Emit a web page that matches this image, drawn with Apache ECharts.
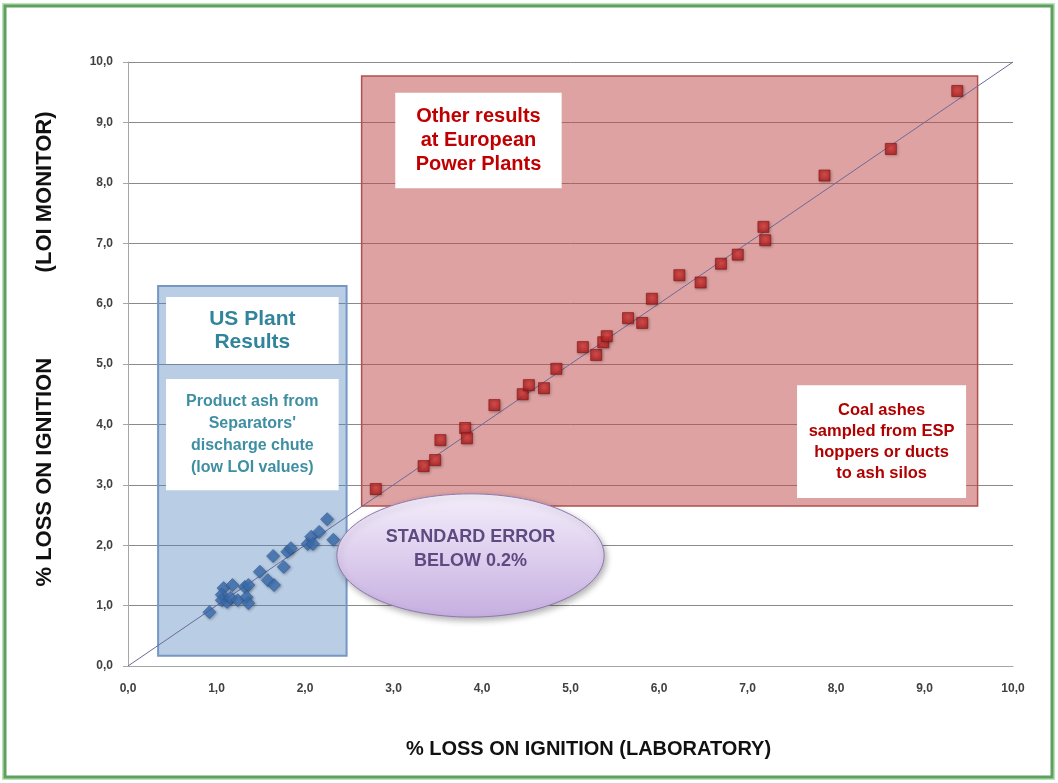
<!DOCTYPE html>
<html>
<head>
<meta charset="utf-8">
<script src="https://cdn.jsdelivr.net/npm/echarts@6/dist/echarts.min.js"></script>
<style>
html,body{margin:0;padding:0;background:#fff;}
#chart{width:1058px;height:783px;}
</style>
</head>
<body>
<div id="chart"></div>
<script>
// ---- data ----
const xTickValues = [0,1,2,3,4,5,6,7,8,9,10];
const usPlantLab = [0.92,1.08,1.06,1.06,1.12,1.18,1.16,1.24,1.32,1.36,1.34,1.36,1.49,1.58,1.65,1.64,1.76,1.80,1.84,2.03,2.07,2.09,2.16,2.25,2.32];
const usPlantMonitor = [0.89,1.29,1.18,1.09,1.06,1.34,1.13,1.09,1.31,1.34,1.14,1.04,1.56,1.42,1.34,1.82,1.64,1.89,1.95,2.02,2.14,2.02,2.22,2.43,2.09];
const europeLab = [2.80,3.34,3.47,3.53,3.81,3.83,4.14,4.46,4.53,4.70,4.84,5.14,5.29,5.37,5.41,5.65,5.81,5.92,6.23,6.47,6.70,6.89,7.18,7.20,7.87,8.62,9.37];
const europeMonitor = [2.93,3.31,3.41,3.74,3.94,3.77,4.32,4.50,4.65,4.60,4.92,5.28,5.15,5.36,5.46,5.76,5.68,6.08,6.47,6.35,6.66,6.81,7.27,7.05,8.12,8.56,9.52];
const identityLine = [[0,0],[10,10]];
const usArea = [[0.34,0.17],[2.47,6.29]];
const europeArea = [[2.64,2.65],[9.60,9.77]];

const usPoints = usPlantLab.map((x,i)=>[x,usPlantMonitor[i]]);
const euPoints = europeLab.map((x,i)=>[x,europeMonitor[i]]);

const fmt = v => v.toFixed(1).replace('.', ',');
const FONT = "'Liberation Sans', Arial, sans-serif";

const chart = echarts.init(document.getElementById('chart'));
const option = {
  animation:false,
  backgroundColor:'#ffffff',
  grid:{left:128,right:45,top:62,bottom:117},
  xAxis:{
    type:'value',min:0,max:10,interval:1,
    name:'% LOSS ON IGNITION (LABORATORY)',
    nameLocation:'middle',nameGap:73,
    nameTextStyle:{fontFamily:FONT,fontWeight:'bold',fontSize:20,color:'#111',padding:[0,0,0,36]},
    axisLine:{show:true,lineStyle:{color:'#a6a6a6',width:1}},
    axisTick:{show:false},
    splitLine:{show:false},
    axisLabel:{formatter:fmt,fontFamily:FONT,fontWeight:'bold',fontSize:12,color:'#404040',margin:17}
  },
  yAxis:{
    type:'value',min:0,max:10,interval:1,
    name:'% LOSS ON IGNITION              (LOI MONITOR)',
    nameLocation:'middle',nameGap:72,nameRotate:90,
    nameTextStyle:{fontFamily:FONT,fontWeight:'bold',fontSize:22,color:'#111',padding:[0,0,0,30]},
    axisLine:{show:true,lineStyle:{color:'#a6a6a6',width:1}},
    axisTick:{show:true,length:5,inside:false,lineStyle:{color:'#a6a6a6'}},
    splitLine:{show:true,lineStyle:{color:'#8a8a8a',width:1}},
    axisLabel:{formatter:fmt,fontFamily:FONT,fontWeight:'bold',fontSize:12,color:'#404040',margin:15}
  },
  series:[
    {
      type:'scatter',name:'areas',data:[],z:1,silent:true,
      markArea:{
        silent:true,
        data:[
          [{coord:europeArea[0],itemStyle:{color:'rgba(190,70,70,0.5)',borderColor:'#b0504c',borderWidth:1.5}},{coord:europeArea[1]}],
          [{coord:usArea[0],itemStyle:{color:'rgba(79,129,189,0.4)',borderColor:'#7597c4',borderWidth:2}},{coord:usArea[1]}]
        ]
      }
    },
    {
      type:'line',data:identityLine,symbol:'none',z:2,
      lineStyle:{color:'#6a6a9a',width:1}
    },
    {
      type:'scatter',data:usPoints,symbol:'diamond',symbolSize:13,z:5,
      itemStyle:{color:'#3f72b5',borderColor:'#2f5d99',borderWidth:0.8,shadowBlur:3,shadowColor:'rgba(0,0,0,0.35)',shadowOffsetX:1,shadowOffsetY:1}
    },
    {
      type:'scatter',data:euPoints,symbol:'rect',symbolSize:11,z:5,
      itemStyle:{
        color:new echarts.graphic.RadialGradient(0.5,0.4,0.7,[{offset:0,color:'#e04040'},{offset:1,color:'#a81818'}]),
        borderColor:'#8e1010',borderWidth:0.8,shadowBlur:3,shadowColor:'rgba(0,0,0,0.4)',shadowOffsetX:1,shadowOffsetY:1}
    }
  ]
};
chart.setOption(option);

// ---- annotations placed in data coordinates ----
const px = (x,y)=>chart.convertToPixel({gridIndex:0},[x,y]);
function textBox(x0,y0,x1,y1,lines,color,size,lineH){
  const a = px(x0,y0), b = px(x1,y1);
  const left=Math.min(a[0],b[0]), top=Math.min(a[1],b[1]);
  const w=Math.abs(b[0]-a[0]), h=Math.abs(b[1]-a[1]);
  return [
    {type:'rect',z:20,shape:{x:left,y:top,width:w,height:h},style:{fill:'#ffffff'}},
    {type:'text',z:21,x:left+w/2,y:top+h/2,style:{text:lines.join('\n'),fill:color,font:'bold '+size+'px '+FONT,align:'center',verticalAlign:'middle',lineHeight:lineH}}
  ];
}
const ec = px(3.87,1.83);
const eTop = px(3.87,2.85);
const eLeft = px(2.36,1.83);
const rx = ec[0]-eLeft[0], ry = ec[1]-eTop[1];

const graphics = [].concat(
  textBox(3.02,9.49,4.90,7.91,['Other results','at European','Power Plants'],'#c00000',20,24),
  textBox(0.43,6.11,2.38,5.00,['US Plant','Results'],'#31849b',21,23),
  textBox(0.43,4.75,2.38,2.91,['Product ash from',"Separators'",'discharge chute','(low LOI values)'],'#3e8fa2',16,22),
  textBox(7.56,4.65,9.47,2.78,['Coal ashes','sampled from ESP','hoppers or ducts','to ash silos'],'#b00000',16.5,21),
  [
    {type:'ellipse',z:30,shape:{cx:ec[0],cy:ec[1],rx:rx,ry:ry},
     style:{fill:new echarts.graphic.LinearGradient(0,0,0,1,[{offset:0,color:'#f4eefb'},{offset:1,color:'#c6afe0'}]),
            stroke:'#8f78b0',lineWidth:1,shadowBlur:6,shadowColor:'rgba(0,0,0,0.3)',shadowOffsetX:2,shadowOffsetY:3}},
    {type:'text',z:31,x:ec[0],y:ec[1]-6,style:{text:'STANDARD ERROR\nBELOW 0.2%',fill:'#5e4a80',font:'bold 18px '+FONT,align:'center',verticalAlign:'middle',lineHeight:24}},
    {type:'rect',z:40,shape:{x:5,y:6,width:1047,height:771},style:{fill:'none',stroke:'#5f9f5f',lineWidth:3}},
    {type:'rect',z:39,shape:{x:3,y:4,width:1051,height:775},style:{fill:'none',stroke:'#b8e4b8',lineWidth:2}}
  ]
);
chart.setOption({graphic:graphics});
</script>
</body>
</html>
